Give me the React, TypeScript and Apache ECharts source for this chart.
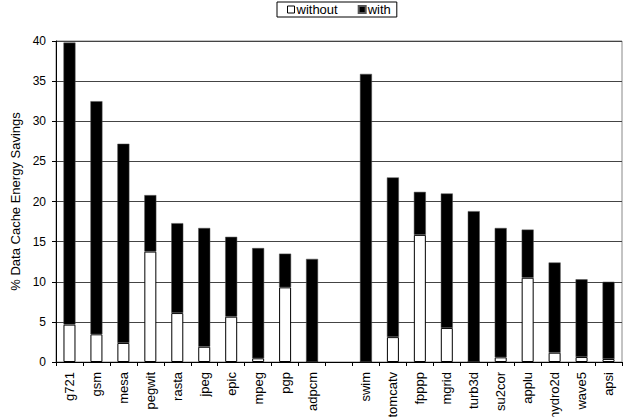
import React, { useEffect, useRef } from "react";
import * as echarts from "echarts";

const categories = [
  "g721", "gsm", "mesa", "pegwit", "rasta", "jpeg", "epic", "mpeg", "pgp", "adpcm",
  "",
  "swim", "tomcatv", "fpppp", "mgrid", "turb3d", "su2cor", "applu", "hydro2d", "wave5", "apsi",
];

// "without" savings (white bar, bottom)
const withoutVals: (number | null)[] = [
  4.66, 3.45, 2.37, 13.76, 6.1, 1.9, 5.65, 0.46, 9.3, 0,
  null,
  0, 3.1, 15.84, 4.24, 0, 0.58, 10.5, 1.16, 0.62, 0.37,
];

// "with" savings (top of the black bar)
const withVals: (number | null)[] = [
  39.8, 32.5, 27.2, 20.8, 17.3, 16.7, 15.6, 14.2, 13.5, 12.85,
  null,
  35.9, 23.0, 21.2, 21.0, 18.8, 16.7, 16.5, 12.4, 10.3, 10.0,
];

const yTicks = { min: 0, max: 40, interval: 5 };

const FONT = "Arial, 'Liberation Sans', sans-serif";

export default function App() {
  const ref = useRef<HTMLDivElement>(null);
  useEffect(() => {
    if (!ref.current) return;
    const chart = echarts.init(ref.current, null, { renderer: "svg" });
    const topPart = withVals.map((v, i) => {
      const w = withoutVals[i];
      if (v == null) return null;
      return +(v - (w ?? 0)).toFixed(3);
    });
    chart.setOption({
      animation: false,
      backgroundColor: "#fff",
      textStyle: { fontFamily: FONT },
      legend: {
        show: true,
        left: 277,
        top: 2,
        padding: [1, 6, 1, 10],
        itemGap: 20,
        itemWidth: 7,
        itemHeight: 7,
        borderColor: "#000",
        borderWidth: 1,
        textStyle: { fontFamily: FONT, fontSize: 13, color: "#000", padding: [0, 0, 0, -3] },
        data: [
          { name: "without", icon: "rect", itemStyle: { color: "#fff", borderColor: "#000", borderWidth: 1 } },
          { name: "with", icon: "rect", itemStyle: { color: "#000" } },
        ],
      },
      grid: {
        left: 56,
        right: 1,
        top: 41,
        bottom: 55,
        containLabel: false,
        outerBoundsMode: "none",
        show: true,
        borderColor: "#888",
        borderWidth: 1,
      },
      xAxis: {
        type: "category",
        data: categories,
        axisLine: { lineStyle: { color: "#000", width: 1 } },
        axisTick: { show: true, length: 4, lineStyle: { color: "#000" }, alignWithLabel: false },
        axisLabel: {
          rotate: 90,
          interval: 0,
          margin: 10,
          fontSize: 13,
          color: "#000",
          fontFamily: FONT,
        },
      },
      yAxis: {
        type: "value",
        min: yTicks.min,
        max: yTicks.max,
        interval: yTicks.interval,
        name: "% Data Cache Energy Savings",
        nameLocation: "middle",
        nameGap: 31,
        nameTextStyle: { fontSize: 13, color: "#000", fontFamily: FONT },
        axisLine: { show: true, lineStyle: { color: "#000", width: 1 } },
        axisTick: { show: true, length: 4, lineStyle: { color: "#000" } },
        axisLabel: { fontSize: 12, color: "#000", margin: 10, fontFamily: FONT },
        splitLine: { show: true, lineStyle: { color: "#444", width: 1 } },
      },
      series: [
        {
          name: "without",
          type: "bar",
          stack: "a",
          barWidth: 12,
          data: withoutVals,
          itemStyle: { color: "#fff", borderColor: "#000", borderWidth: 1 },
        },
        {
          name: "with",
          type: "bar",
          stack: "a",
          barWidth: 12,
          data: topPart,
          itemStyle: { color: "#000", borderColor: "#555", borderWidth: 0.5 },
        },
      ],
    });
    return () => chart.dispose();
  }, []);
  return (
    <div
      ref={ref}
      style={{ position: "fixed", left: 0, top: 0, width: 623, height: 417 }}
    />
  );
}
